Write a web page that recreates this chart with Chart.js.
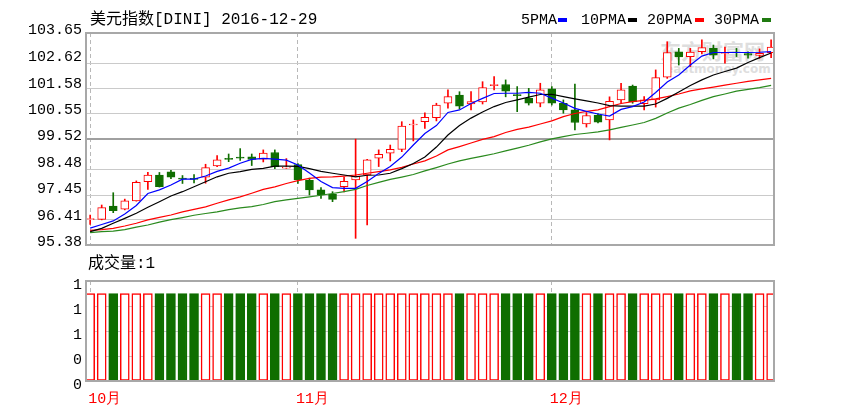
<!DOCTYPE html>
<html><head><meta charset="utf-8">
<script src="https://cdn.jsdelivr.net/npm/chart.js@4.4.1/dist/chart.umd.min.js"></script>
<style>
body{margin:0;background:#fff;width:857px;height:409px;position:relative;overflow:hidden;font-family:"Liberation Mono","Noto Sans CJK SC",monospace;}
.t{position:absolute;white-space:nowrap;color:#000;}
.sw{position:absolute;width:9px;height:4px;}
canvas{position:absolute;left:0;}
</style></head><body>
<div class="t" style="left:660px;top:38px;font:bold 21px 'Noto Sans CJK SC';color:#dedede;line-height:24px">东方财富网</div>
<div class="t" style="left:665px;top:63px;font:bold 12px 'DejaVu Sans';color:#dedede;line-height:12px">eastmoney.com</div>
<canvas id="main" width="857" height="250" style="top:0"></canvas>
<canvas id="vol" width="857" height="164" style="top:245px"></canvas>
<div class="t" style="left:90px;top:12px;font-size:16px;line-height:17px">美元指数[DINI] 2016-12-29</div>
<div class="t" style="left:521px;top:13px;font-size:15px;line-height:15px">5PMA</div><div class="sw" style="left:558px;top:18px;background:#0000ff"></div>
<div class="t" style="left:581px;top:13px;font-size:15px;line-height:15px">10PMA</div><div class="sw" style="left:628px;top:18px;background:#000"></div>
<div class="t" style="left:647px;top:13px;font-size:15px;line-height:15px">20PMA</div><div class="sw" style="left:695px;top:18px;background:#ff0000"></div>
<div class="t" style="left:714px;top:13px;font-size:15px;line-height:15px">30PMA</div><div class="sw" style="left:762px;top:18px;background:#1f7a10"></div>
<div class="t" style="left:88px;top:256px;font-size:16px;line-height:17px">成交量:1</div>
<script>
// ---- data ----
const monthLabels = ['10月','11月','12月'];
const monthStart = [0, 18, 40];
const yTickLabels = ['103.65','102.62','101.58','100.55','99.52','98.48','97.45','96.41','95.38'];
const gridValues = [102.46, 101.49, 100.52, 99.50, 98.31, 97.33, 96.37];
const volTickLabels = ['0','0','1','1','1'];
const volTickValues = [0, 0.286, 0.572, 0.858, 1.144];

const opens = [96.37,96.38,96.90,96.78,97.10,97.85,98.11,98.23,97.99,97.97,
  98.03,98.46,98.76,98.81,98.82,98.73,98.99,98.38,98.52,97.90,
  97.53,97.37,97.66,97.92,98.11,98.77,98.96,99.11,100.06,100.19,
  100.35,100.91,101.23,100.88,100.96,101.60,101.64,101.25,101.10,100.91,
  101.47,100.91,100.65,100.10,100.45,100.26,101.04,101.58,100.89,101.04,
  101.93,102.92,102.73,102.92,103.05,102.85,102.91,102.85,102.78,102.88];
const closes = [96.39,96.84,96.72,97.10,97.82,98.11,97.66,98.03,97.95,97.94,
  98.40,98.70,98.72,98.77,98.72,98.97,98.44,98.42,97.92,97.53,
  97.33,97.16,97.86,98.07,98.70,98.92,99.11,100.02,100.10,100.36,
  100.84,101.17,100.80,100.97,101.52,101.64,101.38,101.21,100.91,101.43,
  100.91,100.65,100.16,100.43,100.17,100.98,101.43,100.97,101.04,101.91,
  102.89,102.72,102.91,103.08,102.79,102.89,102.87,102.79,102.86,103.10];
const highs = [96.55,96.94,97.42,97.17,97.88,98.21,98.21,98.29,98.09,98.13,
  98.53,98.87,98.93,99.14,98.93,99.09,99.09,98.75,98.56,97.99,
  97.62,97.46,98.03,99.51,98.72,99.09,99.28,100.19,100.26,100.54,
  100.91,101.43,101.36,101.36,101.75,101.95,101.82,101.56,101.49,101.69,
  101.56,101.04,101.66,100.55,100.51,101.16,101.69,101.62,101.17,102.21,
  103.31,103.05,103.05,103.38,103.18,103.10,103.05,102.92,103.03,103.38];
const lows = [96.18,96.36,96.64,96.75,97.09,97.55,97.64,97.97,97.78,97.80,
  97.79,98.44,98.63,98.68,98.48,98.62,98.36,98.37,97.78,97.33,
  97.20,97.07,97.45,95.64,96.16,98.44,98.66,99.02,99.44,99.93,
  100.22,100.72,100.69,100.65,100.88,101.43,101.16,100.58,100.84,100.77,
  100.84,100.52,99.87,99.98,100.14,99.48,100.91,100.91,100.65,100.76,
  101.88,102.40,102.34,102.83,102.64,102.47,102.73,102.67,102.66,102.69];
const volumes = [1,1,1,1,1,1,1,1,1,1, 1,1,1,1,1,1,1,1,1,1, 1,1,1,1,1,1,1,1,1,1,
  1,1,1,1,1,1,1,1,1,1, 1,1,1,1,1,1,1,1,1,1, 1,1,1,1,1,1,1,1,1,1];
const ma5 = [96.04,96.18,96.32,96.59,96.92,97.39,97.53,97.72,97.95,97.95,
  98.07,98.25,98.38,98.57,98.72,98.76,98.73,98.69,98.50,98.19,
  97.86,97.62,97.59,97.59,97.86,98.17,98.44,98.81,99.28,99.73,
  100.04,100.55,100.65,100.90,101.10,101.29,101.30,101.30,101.33,101.30,
  101.11,100.92,100.71,100.59,100.49,100.41,100.67,100.78,100.96,101.33,
  101.74,102.01,102.40,102.75,102.89,102.89,102.89,102.89,102.90,102.92];
const ma10 = [95.90,96.03,96.23,96.42,96.62,96.85,97.07,97.29,97.46,97.65,
  97.85,98.04,98.18,98.24,98.33,98.37,98.46,98.46,98.45,98.36,
  98.25,98.18,98.11,98.04,98.10,98.11,98.18,98.36,98.56,98.81,
  99.20,99.67,100.04,100.33,100.57,100.78,100.94,101.04,101.15,101.25,
  101.26,101.17,101.08,101.00,100.92,100.82,100.80,100.80,100.80,100.88,
  101.10,101.35,101.60,101.82,102.01,102.15,102.28,102.50,102.69,102.87];
const ma20 = [95.95,95.98,96.03,96.12,96.23,96.36,96.46,96.55,96.67,96.77,
  96.87,97.01,97.14,97.26,97.40,97.55,97.65,97.78,97.89,97.98,
  98.03,98.04,98.07,98.11,98.18,98.24,98.31,98.41,98.54,98.66,
  98.85,99.09,99.22,99.36,99.50,99.61,99.77,99.89,99.98,100.10,
  100.22,100.39,100.51,100.59,100.65,100.78,100.90,100.97,101.02,101.08,
  101.17,101.27,101.39,101.47,101.54,101.62,101.69,101.76,101.82,101.88];
const ma30 = [95.86,95.90,95.92,95.98,96.08,96.16,96.27,96.37,96.45,96.54,
  96.61,96.67,96.76,96.83,96.88,96.96,97.07,97.14,97.20,97.26,
  97.32,97.39,97.46,97.55,97.70,97.82,97.94,98.03,98.13,98.27,
  98.40,98.54,98.66,98.76,98.85,98.94,99.05,99.16,99.27,99.40,
  99.52,99.61,99.69,99.74,99.79,99.87,99.97,100.06,100.16,100.32,
  100.53,100.72,100.86,101.02,101.17,101.27,101.38,101.45,101.52,101.61];

// ---- styles ----
const RED = '#ff0000', GREEN = '#0f6e00';
const up = closes.map((c, i) => c >= opens[i]);
const XMIN = -0.36, XMAX = 59.25;
const FONT = {family: "'Liberation Mono', monospace", size: 15};

const frame = {
  id: 'frame',
  afterDatasetsDraw(chart) {
    const {ctx, chartArea: a} = chart;
    ctx.save();
    ctx.strokeStyle = '#a8a8a8';
    ctx.lineWidth = 2;
    ctx.strokeRect(a.left, a.top, a.right - a.left, a.bottom - a.top);
    ctx.restore();
  }
};
const noPad = s => { s.paddingTop = 0; s.paddingBottom = 0; s.paddingLeft = 0; s.paddingRight = 0; };

const lineDs = (arr, color) => ({
  type: 'line', data: arr.map((v, i) => ({x: i, y: v})), borderColor: color,
  borderWidth: 1.2, pointRadius: 0, tension: 0, order: 0
});

const xScale = (showLabels) => ({
  type: 'linear', min: XMIN, max: XMAX, offset: false,
  afterBuildTicks: s => { s.ticks = monthStart.map(v => ({value: v})); },
  ticks: {
    display: showLabels, color: RED, font: FONT, align: 'start', padding: 9, labelOffset: -2,
    maxRotation: 0, autoSkip: false,
    callback: (v) => monthLabels[monthStart.indexOf(v)]
  },
  grid: {offset: false, color: '#b8b8b8', lineWidth: 1, drawTicks: false},
  border: {display: false, dash: [4, 3]},
  afterFit: s => { s.height = showLabels ? 28 : 0; noPad(s); }
});

new Chart(document.getElementById('main'), {
  type: 'bar',
  data: {datasets: [
    lineDs(ma5, '#0000ff'), lineDs(ma10, '#000000'), lineDs(ma20, '#ff0000'), lineDs(ma30, '#2a8a1e'),
    {data: opens.map((o, i) => ({x: i, y: [o, closes[i]]})),
     backgroundColor: up.map(u => u ? '#ffffff' : GREEN), borderColor: up.map(u => u ? RED : GREEN),
     borderWidth: 1, borderSkipped: false, barThickness: 8, grouped: false, minBarLength: 1, order: 1},
    {data: lows.map((l, i) => ({x: i, y: [l, highs[i]]})),
     backgroundColor: up.map(u => u ? RED : GREEN), borderWidth: 0, barThickness: 1, grouped: false, order: 2}
  ]},
  options: {
    responsive: false, animation: false, events: [],
    layout: {padding: {left: 0, right: 83, top: 33, bottom: 5}},
    plugins: {legend: {display: false}, tooltip: {enabled: false}},
    scales: {
      x: xScale(false),
      y: {
        type: 'linear', position: 'left', min: 95.38, max: 103.65,
        afterBuildTicks: s => { s.ticks = yTickLabels.map(t => ({value: Number(t)})); },
        ticks: {color: '#000', font: FONT, padding: 4, labelOffset: -2.5,
                callback: (v, i) => yTickLabels[i]},
        grid: {display: false, drawTicks: false}, border: {display: false},
        afterFit: s => { s.width = 86; noPad(s); }
      },
      yGrid: {
        type: 'linear', position: 'left', min: 95.38, max: 103.65,
        afterBuildTicks: s => { s.ticks = gridValues.map(v => ({value: v})); },
        ticks: {display: false},
        grid: {drawTicks: false,
               color: c => c.tick && c.tick.value === gridValues[3] ? '#a0a0a0' : '#cacaca',
               lineWidth: c => c.tick && c.tick.value === gridValues[3] ? 2 : 1},
        border: {display: false},
        afterFit: s => { s.width = 0; noPad(s); }
      }
    }
  },
  plugins: [frame]
});

new Chart(document.getElementById('vol'), {
  type: 'bar',
  data: {datasets: [
    {data: volumes.map((v, i) => ({x: i, y: v})),
     backgroundColor: up.map(u => u ? '#ffffff' : GREEN), borderColor: up.map(u => u ? RED : GREEN),
     borderWidth: 1.5, borderSkipped: false, barThickness: 9, grouped: false}
  ]},
  options: {
    responsive: false, animation: false, events: [],
    layout: {padding: {left: 0, right: 83, top: 36, bottom: 0}},
    plugins: {legend: {display: false}, tooltip: {enabled: false}},
    scales: {
      x: xScale(true),
      y: {
        type: 'linear', position: 'left', min: 0, max: 1.144,
        afterBuildTicks: s => { s.ticks = volTickValues.map(v => ({value: v})); },
        ticks: {color: '#000', font: FONT, padding: 4, labelOffset: 4,
                callback: (v, i) => volTickLabels[i]},
        grid: {drawTicks: false, color: '#cacaca', lineWidth: 1},
        border: {display: false},
        afterFit: s => { s.width = 86; noPad(s); }
      }
    }
  },
  plugins: [frame]
});
</script>
</body></html>
